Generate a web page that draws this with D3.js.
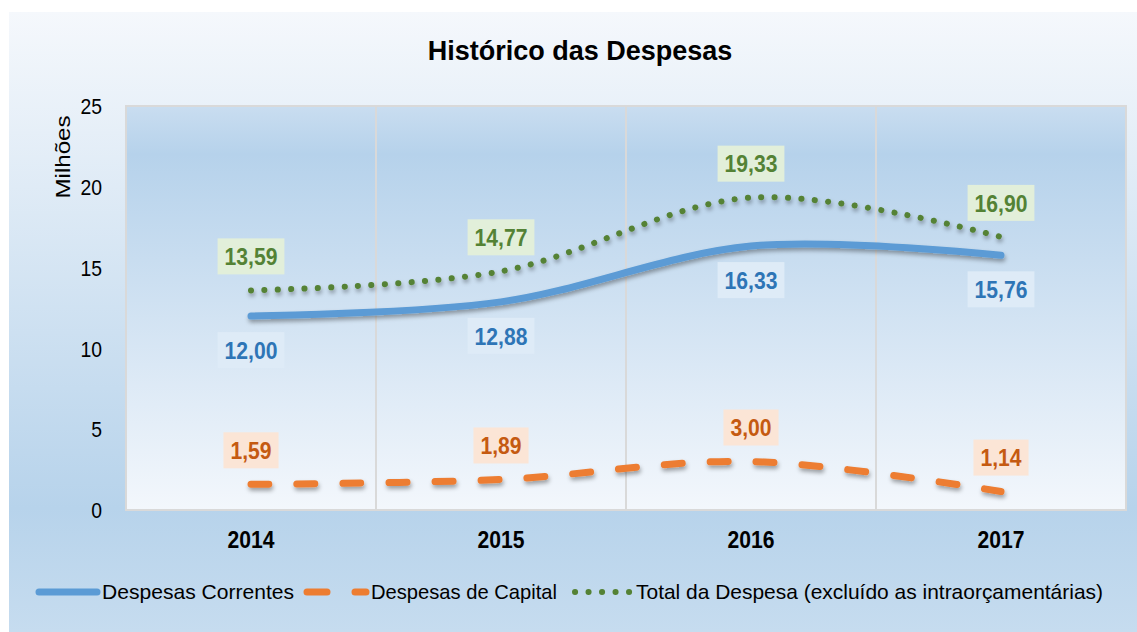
<!DOCTYPE html>
<html>
<head>
<meta charset="utf-8">
<script src="https://cdn.jsdelivr.net/npm/d3@7"></script>
<style>
	body { margin: 0; background: #ffffff; }
	svg { display: block; }
	text { font-family: "Liberation Sans", Arial, sans-serif; }
</style>
</head>
<body>
<svg id="chart" width="1137" height="632"></svg>
<script>
// dados
var years = ["2014", "2015", "2016", "2017"];
var correntes = [12.00, 12.88, 16.33, 15.76];
var capital = [1.59, 1.89, 3.00, 1.14];
var total = [13.59, 14.77, 19.33, 16.90];
var yTicks = [0, 5, 10, 15, 20, 25];
var seriesNames = ["Despesas Correntes", "Despesas de Capital", "Total da Despesa (excluído as intraorçamentárias)"];

var svg = d3.select("#chart");
var W = 1137, H = 632;
var plot = { left: 126, right: 1126, top: 106, bottom: 510 };
var narrow = 0.88; // fonte "narrow" simulada

var defs = svg.append("defs");
var outerGrad = defs.append("linearGradient").attr("id", "outerGrad").attr("x1", 0).attr("y1", 0).attr("x2", 0).attr("y2", 1);
outerGrad.append("stop").attr("offset", "0%").attr("stop-color", "#f5f8fc");
outerGrad.append("stop").attr("offset", "80%").attr("stop-color", "#b7d3eb");
outerGrad.append("stop").attr("offset", "100%").attr("stop-color", "#c6dcef");
var plotGrad = defs.append("linearGradient").attr("id", "plotGrad").attr("x1", 0).attr("y1", 0).attr("x2", 0).attr("y2", 1);
plotGrad.append("stop").attr("offset", "0%").attr("stop-color", "#c9ddf0");
plotGrad.append("stop").attr("offset", "12%").attr("stop-color", "#b6d2eb");
plotGrad.append("stop").attr("offset", "100%").attr("stop-color", "#f3f7fc");
var shadow = defs.append("filter").attr("id", "shadow").attr("x", "-10%").attr("y", "-50%").attr("width", "120%").attr("height", "200%");
shadow.append("feDropShadow").attr("dx", 1).attr("dy", 3).attr("stdDeviation", 2)
	.attr("flood-color", "#000").attr("flood-opacity", 0.35);

// fundo
svg.append("rect").attr("x", 9).attr("y", 12).attr("width", W - 9).attr("height", H - 12).attr("fill", "url(#outerGrad)");
svg.append("rect").attr("x", plot.left).attr("y", plot.top)
	.attr("width", plot.right - plot.left).attr("height", plot.bottom - plot.top)
	.attr("fill", "url(#plotGrad)").attr("stroke", "#d9d9d9").attr("stroke-width", 2);

var x = d3.scaleBand().domain(years).range([plot.left, plot.right]).padding(0);
var y = d3.scaleLinear().domain([0, 25]).range([plot.bottom, plot.top]);
var cx = function (d, i) { return x(years[i]) + x.bandwidth() / 2; };

// linhas de grade verticais entre categorias
svg.append("g").selectAll("line").data(years.slice(1)).join("line")
	.attr("x1", function (d) { return x(d); }).attr("x2", function (d) { return x(d); })
	.attr("y1", plot.top).attr("y2", plot.bottom)
	.attr("stroke", "#d9d9d9").attr("stroke-width", 2);

// eixo y
var yAxis = svg.append("g").attr("transform", "translate(" + (plot.left - 24) + ",0)")
	.call(d3.axisLeft(y).tickValues(yTicks).tickSize(0).tickPadding(0));
yAxis.select(".domain").remove();
yAxis.selectAll("text").attr("font-size", 22).attr("fill", "#000").attr("dy", "0.35em")
	.attr("transform", "scale(0.88,1)");

svg.append("text").attr("transform", "translate(70,157) rotate(-90) scale(1.15,1)")
	.attr("text-anchor", "middle").attr("font-size", 21).attr("fill", "#000")
	.text("Milhões");

// eixo x
var xAxis = svg.append("g").attr("transform", "translate(0," + plot.bottom + ")")
	.call(d3.axisBottom(x).tickSize(0).tickPadding(21));
xAxis.select(".domain").remove();
xAxis.selectAll("text").attr("font-size", 24).attr("font-weight", "bold").attr("fill", "#000")
	.attr("transform", "scale(" + narrow + ",1)");

// título
svg.append("text").attr("x", 580).attr("y", 60).attr("text-anchor", "middle")
	.attr("font-size", 27).attr("font-weight", "bold").attr("fill", "#000")
	.text("Histórico das Despesas");

var line = d3.line().x(cx).y(function (d) { return y(d); }).curve(d3.curveCardinal.tension(0));

var series = [
	{ values: total, color: "#548235", width: 6, dash: "0.1 13.3", label: "#548235", box: "#e2efda", pos: "above" },
	{ values: correntes, color: "#5b9bd5", width: 7, dash: null, label: "#2e75b6", box: "#deebf7", pos: "below" },
	{ values: capital, color: "#ed7d31", width: 7, dash: "18 28", label: "#c55a11", box: "#fbe5d6", pos: "above" }
];

series.forEach(function (s) {
	svg.append("path").datum(s.values)
		.attr("d", line).attr("fill", "none")
		.attr("stroke", s.color).attr("stroke-width", s.width)
		.attr("stroke-linecap", "round")
		.attr("stroke-dasharray", s.dash)
		.attr("filter", "url(#shadow)");
});

// rótulos dos dados
series.forEach(function (s) {
	var g = svg.append("g");
	s.values.forEach(function (v, i) {
		var px = cx(v, i);
		var py = y(v) + (s.pos === "above" ? -34 : 34);
		var txt = v.toFixed(2).replace(".", ",");
		var lg = g.append("g").attr("transform", "translate(" + px + "," + py + ")");
		var r = lg.append("rect").attr("fill", s.box);
		var t = lg.append("text").attr("text-anchor", "middle").attr("dy", "0.36em")
			.attr("transform", "scale(" + narrow + ",1)")
			.attr("font-size", 24).attr("font-weight", "bold").attr("fill", s.label).text(txt);
		var w = t.node().getComputedTextLength() * narrow + 14;
		r.attr("x", -w / 2).attr("y", -18).attr("width", w).attr("height", 36);
	});
});

// legenda
var leg = svg.append("g").attr("transform", "translate(0,592)");
leg.append("line").attr("x1", 39).attr("x2", 97).attr("stroke", "#5b9bd5").attr("stroke-width", 7).attr("stroke-linecap", "round");
leg.append("line").attr("x1", 307).attr("x2", 366).attr("stroke", "#ed7d31").attr("stroke-width", 7).attr("stroke-linecap", "round").attr("stroke-dasharray", "20 28");
leg.append("line").attr("x1", 575).attr("x2", 630).attr("stroke", "#548235").attr("stroke-width", 6).attr("stroke-linecap", "round").attr("stroke-dasharray", "0.1 13.4");
var legX = [102, 371, 636];
var legW = [192, 186, 467];
seriesNames.forEach(function (n, i) {
	leg.append("text").attr("x", legX[i]).attr("dy", "0.35em")
		.attr("font-size", 21).attr("fill", "#000")
		.attr("textLength", legW[i]).attr("lengthAdjust", "spacingAndGlyphs")
		.text(n);
});
</script>
</body>
</html>
